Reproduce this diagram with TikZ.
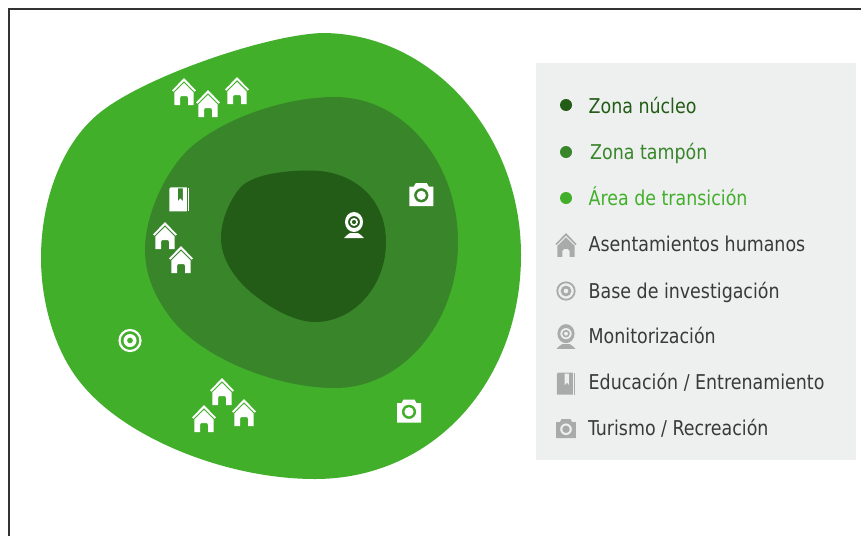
\documentclass[tikz,border=0pt]{standalone}
\usepackage{fontspec}
\setmainfont[FakeStretch=0.95]{DejaVu Sans Condensed}
\definecolor{outerg}{HTML}{42AF2A}
\definecolor{midg}{HTML}{38852A}
\definecolor{coreg}{HTML}{235C16}
\definecolor{legbg}{HTML}{EEF0F0}
\definecolor{icong}{HTML}{A9ABAB}
\definecolor{txtd}{HTML}{3A3A3A}
\tikzset{
 x=1pt,y=-1pt,
 legtext/.style={anchor=base west,inner sep=0pt,font=\fontsize{20.4pt}{23pt}\selectfont,text=txtd},
 dotmark/.style={circle,inner sep=0pt,minimum size=12pt},
 pics/house/.style={code={
  \fill[#1] (0,0) -- (12,12.5) -- (10.7,13.7) -- (0,3) -- (-10.7,13.7) -- (-12,12.5) -- cycle;
  \fill[#1] (0,5) -- (9.7,14.5) -- (9.7,27) -- (4,27) -- (4,20) .. controls (4,18.5) and (3,18) .. (2,18) -- (-2,18) .. controls (-3,18) and (-4,18.5) .. (-4,20) -- (-4,27) -- (-9.7,27) -- (-9.7,14.5) -- cycle;
 }},
 pics/camera/.style={code={
  \fill[#1,even odd rule] (-12,-8.3) -- (-7.5,-8.3) -- (-5.5,-12) -- (5.5,-12) -- (7.5,-8.3) -- (12,-8.3) -- (12,11) -- (-12,11) -- cycle
    (0,0.3) circle[radius=7.2];
  \fill[#1] (0,0.3) circle[radius=4.6];
 }},
 pics/target/.style={code={
  \fill[#1,even odd rule] (0,0) circle[radius=11.6] (0,0) circle[radius=9.4];
  \fill[#1,even odd rule] (0,0) circle[radius=6.5] (0,0) circle[radius=3];
 }},
 pics/webcam/.style={code={
  \fill[#1,even odd rule] (0,-3) ellipse[x radius=9,y radius=10] (0,-3) circle[radius=6];
  \fill[#1,even odd rule] (0,-3) circle[radius=4] (0,-3) circle[radius=2.2];
  \fill[#1] (-4,8) -- (4,8) .. controls (6,10) and (8,10) .. (10,13) -- (-10,13) .. controls (-8,10) and (-6,10) .. cycle;
 }},
 pics/bookmk/.style={code={
  \fill[#1,even odd rule] (-8.5,-12) -- (7.5,-12) -- (7.5,12) -- (-10,12) -- (-10,-10.5) -- cycle
    (-1.5,-11) -- (3.5,-11) -- (3.5,2) -- (1,-1) -- (-1.5,2) -- cycle;
  \fill[#1] (8.6,-11.5) -- (10,-11.5) -- (10,12) -- (8.6,12) -- cycle;
 }},
}
\begin{document}
\begin{tikzpicture}
\useasboundingbox (0,0) rectangle (861,536);
\fill[white] (0,0) rectangle (861,536);
\draw[line width=1.8pt,color=black!80] (9,536) -- (9,9) -- (861,9);
% zones
\fill[outerg] (322,33) .. controls (431,33) and (521,133) .. (521,255)
  .. controls (521,382) and (433,479) .. (315,479)
  .. controls (225,479) and (123,437) .. (80,382)
  .. controls (55,351) and (41,303) .. (41,258)
  .. controls (41,198) and (63,144) .. (97,115)
  .. controls (140,78) and (265,35) .. (322,33) -- cycle;
\fill[midg] (335,97) .. controls (403,97) and (458,162) .. (458,242)
  .. controls (458,322) and (403,388) .. (335,388)
  .. controls (275,388) and (200,357) .. (170,317)
  .. controls (155,297) and (145,275) .. (145,250)
  .. controls (145,212) and (168,168) .. (190,148)
  .. controls (224,118) and (285,97) .. (335,97) -- cycle;
\fill[coreg] (310,170.5) .. controls (355,170.5) and (386,200) .. (386,242)
  .. controls (386,286) and (354,322) .. (315,322)
  .. controls (295,322) and (271,308) .. (257,297)
  .. controls (239,284) and (221,262) .. (221,238)
  .. controls (221,216) and (234,193) .. (243,185)
  .. controls (257,174) and (285,170.5) .. (310,170.5) -- cycle;
% map icons
\pic at (184,78) {house=white};
\pic at (208,90) {house=white};
\pic at (237,77) {house=white};
\pic at (165,222) {house=white};
\pic at (181,246) {house=white};
\pic at (222,378) {house=white};
\pic at (204,405) {house=white};
\pic at (244,399) {house=white};
\pic at (421.3,195) {camera=white};
\pic at (409,411.5) {camera=white};
\pic at (130,340.5) {target=white};
\pic at (354,225) {webcam=white};
\pic at (179.3,199.3) {bookmk=white};
% legend
\fill[legbg] (536,63) rectangle (856,460);
\node[dotmark,fill=coreg] (d1) at (566,105) {};
\node[dotmark,fill=midg] (d2) at (566,152) {};
\node[dotmark,fill=outerg] (d3) at (566,198) {};
\pic[scale=.88] at (566,233) {house=icong};
\pic[scale=.83] at (566,291) {target=icong};
\pic[scale=.95] at (566,336.5) {webcam=icong};
\pic[scale=.92] at (566,383.7) {bookmk=icong};
\pic[scale=.82] at (566,429) {camera=icong};
\node[legtext,text=coreg] (t1) at (588.5,113) {Zona núcleo};
\node[legtext,text=midg] (t2) at (590,159) {Zona tampón};
\node[legtext,text=outerg] (t3) at (588.5,205) {Área de transición};
\node[legtext] (t4) at (588.5,251) {Asentamientos humanos};
\node[legtext] (t5) at (588.5,298) {Base de investigación};
\node[legtext] (t6) at (588.5,343) {Monitorización};
\node[legtext] (t7) at (588.5,389) {Educación / Entrenamiento};
\node[legtext] (t8) at (588,435) {Turismo / Recreación};
\end{tikzpicture}
\end{document}
